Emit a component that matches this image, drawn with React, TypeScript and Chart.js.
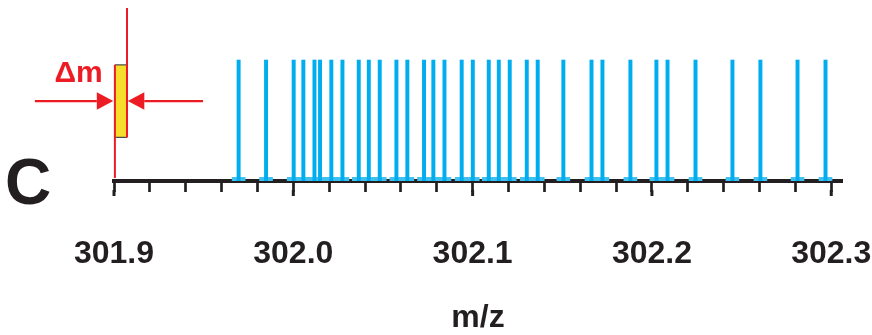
import { useEffect, useRef } from 'react';
import { Chart, registerables } from 'chart.js';

Chart.register(...registerables);

// Peak positions (m/z)
const PEAK_MZ = [
  301.9695, 301.9848, 302.0002, 302.0056, 302.0118, 302.0149, 302.0212, 302.0274,
  302.0365, 302.0421, 302.0482, 302.0575, 302.0636, 302.0729, 302.0781, 302.0843,
  302.0939, 302.1001, 302.109, 302.1146, 302.1207, 302.1302, 302.1363, 302.1506,
  302.1663, 302.1724, 302.188, 302.2025, 302.2087, 302.2243, 302.2449, 302.2605,
  302.2812, 302.2968,
];
// Normalised intensities (all peaks equal height)
const PEAK_INTENSITY = [
  1, 1, 1, 1, 1, 1, 1, 1, 1, 1, 1, 1, 1, 1, 1, 1, 1,
  1, 1, 1, 1, 1, 1, 1, 1, 1, 1, 1, 1, 1, 1, 1, 1, 1,
];
const FOOT_LEVEL = 0.03;

const TICK_VALUES = [
  301.9, 301.92, 301.94, 301.96, 301.98, 302.0, 302.02, 302.04, 302.06, 302.08, 302.1,
  302.12, 302.14, 302.16, 302.18, 302.2, 302.22, 302.24, 302.26, 302.28, 302.3,
];
const MAJOR_TICKS = [301.9, 302.0, 302.1, 302.2, 302.3];
const TICK_LABELS = ['301.9', '302.0', '302.1', '302.2', '302.3'];

const X_MIN = 301.9;
const X_MAX = 302.306;
const Y_MAX = 1.43;

// Δm window annotation
const DELTA_LO = 301.9005;
const DELTA_HI = 301.90725;
const RECT_TOP = 0.96;
const RECT_BOTTOM = 0.36;
const ARROW_Y = 0.661;

const AXIS_COLOR = '#231f20';
const BLUE = '#00aeef';
const BLUE_FOOT = '#3fc0f0';
const RED = '#ed1c24';
const YELLOW = '#f6df2c';
const FONT = '"Liberation Sans", Arial, Helvetica, sans-serif';

const annotPlugin = {
  id: 'annot',
  afterDraw(chart: any) {
    const { ctx, chartArea } = chart;
    const x = chart.scales.x;
    const y = chart.scales.y;
    ctx.save();
    // longer major ticks
    ctx.strokeStyle = AXIS_COLOR;
    ctx.lineWidth = 3;
    const yb = chartArea.bottom;
    MAJOR_TICKS.forEach((v) => {
      const px = x.getPixelForValue(v);
      ctx.beginPath();
      ctx.moveTo(px, yb + 9);
      ctx.lineTo(px, yb + 15);
      ctx.stroke();
    });

    // yellow window
    const xl = x.getPixelForValue(DELTA_LO);
    const xr = x.getPixelForValue(DELTA_HI);
    const yt = y.getPixelForValue(RECT_TOP);
    const ybm = y.getPixelForValue(RECT_BOTTOM);
    ctx.fillStyle = YELLOW;
    ctx.fillRect(xl, yt, xr - xl, ybm - yt);
    ctx.strokeStyle = '#4d4d4d';
    ctx.lineWidth = 1.3;
    ctx.beginPath();
    ctx.moveTo(xl, yt);
    ctx.lineTo(xr, yt);
    ctx.moveTo(xl, ybm);
    ctx.lineTo(xr, ybm);
    ctx.stroke();

    // red edges
    ctx.strokeStyle = RED;
    ctx.lineWidth = 2;
    ctx.beginPath();
    ctx.moveTo(xr, chartArea.top);
    ctx.lineTo(xr, ybm);
    ctx.moveTo(xl, yt);
    ctx.lineTo(xl, y.getPixelForValue(0) - 3);
    ctx.stroke();

    // arrows
    const ay = y.getPixelForValue(ARROW_Y);
    const arrow = (from: number, tip: number) => {
      const dir = Math.sign(tip - from);
      const headLen = 16.5;
      const half = 8.7;
      ctx.strokeStyle = RED;
      ctx.lineWidth = 2.2;
      ctx.beginPath();
      ctx.moveTo(from, ay);
      ctx.lineTo(tip - dir * headLen, ay);
      ctx.stroke();
      ctx.fillStyle = RED;
      ctx.beginPath();
      ctx.moveTo(tip, ay);
      ctx.lineTo(tip - dir * headLen, ay - half);
      ctx.lineTo(tip - dir * headLen, ay + half);
      ctx.closePath();
      ctx.fill();
    };
    arrow(xl - 80, xl - 1.6);
    arrow(xr + 76, xr + 0.8);

    // labels
    ctx.textBaseline = 'alphabetic';
    ctx.textAlign = 'left';
    ctx.fillStyle = RED;
    ctx.font = `bold 30px ${FONT}`;
    ctx.fillText('\u0394m', 54.5, 82);
    ctx.fillStyle = AXIS_COLOR;
    ctx.font = `bold 64px ${FONT}`;
    ctx.fillText('C', 5, 204);
    ctx.restore();
  },
};

export default function App() {
  const ref = useRef<HTMLCanvasElement | null>(null);

  useEffect(() => {
    if (!ref.current) return;
    Chart.defaults.font.family = FONT;
    const chart = new Chart(ref.current, {
      type: 'bar',
      data: {
        datasets: [
          {
            label: 'peaks',
            data: PEAK_MZ.map((mz, i) => ({ x: mz, y: PEAK_INTENSITY[i] })),
            backgroundColor: BLUE,
            borderWidth: 0,
            barThickness: 3.3,
            grouped: false,
            order: 0,
          } as any,
          {
            label: 'feet',
            data: PEAK_MZ.map((mz) => ({ x: mz, y: FOOT_LEVEL })),
            backgroundColor: BLUE_FOOT,
            borderWidth: 0,
            barThickness: 13,
            grouped: false,
            order: 1,
          } as any,
        ],
      },
      options: {
        responsive: false,
        animation: false,
        events: [],
        layout: { padding: { left: 114, right: 30, top: 8, bottom: 1 } },
        plugins: {
          legend: { display: false },
          tooltip: { enabled: false },
          title: { display: false },
        },
        scales: {
          x: {
            type: 'linear',
            min: X_MIN,
            max: X_MAX,
            offset: false,
            z: 1,
            afterBuildTicks: (axis: any) => {
              axis.ticks = TICK_VALUES.map((value) => ({ value }));
            },
            afterFit: (axis: any) => {
              axis.height = 153;
              axis.paddingLeft = 0;
              axis.paddingRight = 0;
              axis.paddingTop = 0;
              axis.paddingBottom = 0;
            },
            grid: {
              display: true,
              offset: false,
              drawOnChartArea: false,
              drawTicks: true,
              tickLength: 11,
              tickWidth: 2.7,
              tickColor: AXIS_COLOR,
              color: AXIS_COLOR,
            },
            border: { display: true, width: 4, color: AXIS_COLOR },
            ticks: {
              autoSkip: false,
              maxRotation: 0,
              minRotation: 0,
              includeBounds: false,
              padding: 43,
              color: AXIS_COLOR,
              font: { size: 32, weight: 'bold', lineHeight: 1.2 },
              callback: (value: any) => {
                const i = MAJOR_TICKS.findIndex((m) => Math.abs(m - Number(value)) < 1e-6);
                return i >= 0 ? TICK_LABELS[i] : '';
              },
            },
            title: {
              display: true,
              text: 'm/z',
              color: AXIS_COLOR,
              font: { size: 32, weight: 'bold', lineHeight: 1 },
              padding: { top: 29, bottom: 0 },
            },
          } as any,
          y: {
            display: false,
            min: 0,
            max: Y_MAX,
          },
        },
      },
      plugins: [annotPlugin],
    });
    return () => chart.destroy();
  }, []);

  return (
    <div style={{ position: 'fixed', left: 0, top: 0, width: 872, height: 335, background: '#fff' }}>
      <canvas ref={ref} width={872} height={335} style={{ display: 'block', width: 872, height: 335 }} />
    </div>
  );
}
